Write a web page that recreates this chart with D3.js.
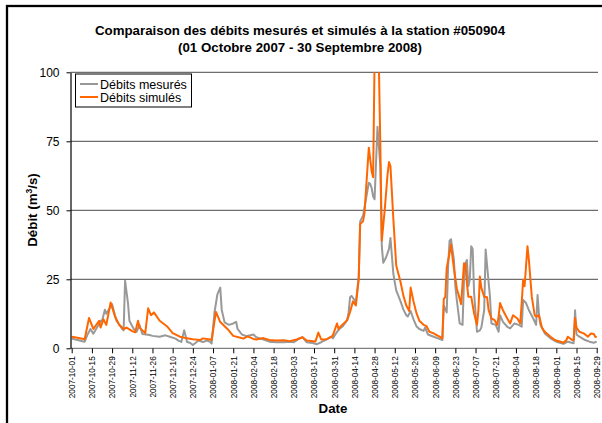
<!DOCTYPE html>
<html><head><meta charset="utf-8">
<script src="https://cdn.jsdelivr.net/npm/d3@7"></script>
<style>body{margin:0;background:#fff;} svg{display:block;font-family:"Liberation Sans",Arial,sans-serif;}</style>
</head><body>
<svg id="c" width="602" height="423"></svg>
<script>
// ---- data ----
const titleLines = ["Comparaison des débits mesurés et simulés à la station #050904", "(01 Octobre 2007 - 30 Septembre 2008)"];
const seriesNames = ["Débits mesurés", "Débits simulés"];
const yTicks = [0, 25, 50, 75, 100];
const xTickLabels = ["2007-10-01","2007-10-15","2007-10-29","2007-11-12","2007-11-26","2007-12-10","2007-12-24","2008-01-07","2008-01-21","2008-02-04","2008-02-18","2008-03-03","2008-03-17","2008-03-31","2008-04-14","2008-04-28","2008-05-12","2008-05-26","2008-06-09","2008-06-23","2008-07-07","2008-07-21","2008-08-04","2008-08-18","2008-09-01","2008-09-15","2008-09-29"];

const measuredDates = ["2007-10-01","2007-10-05","2007-10-10","2007-10-12","2007-10-14","2007-10-16","2007-10-19","2007-10-21","2007-10-22","2007-10-24","2007-10-25","2007-10-29","2007-11-01","2007-11-05","2007-11-06","2007-11-07","2007-11-09","2007-11-10","2007-11-13","2007-11-15","2007-11-17","2007-11-19","2007-11-24","2007-11-26","2007-12-01","2007-12-05","2007-12-08","2007-12-12","2007-12-14","2007-12-16","2007-12-18","2007-12-20","2007-12-22","2007-12-24","2007-12-28","2007-12-31","2008-01-03","2008-01-05","2008-01-06","2008-01-08","2008-01-10","2008-01-12","2008-01-13","2008-01-15","2008-01-18","2008-01-21","2008-01-23","2008-01-24","2008-01-27","2008-01-30","2008-02-04","2008-02-06","2008-02-09","2008-02-13","2008-02-15","2008-02-20","2008-02-25","2008-02-29","2008-03-03","2008-03-07","2008-03-09","2008-03-12","2008-03-16","2008-03-19","2008-03-22","2008-03-26","2008-03-29","2008-03-30","2008-04-02","2008-04-04","2008-04-06","2008-04-09","2008-04-10","2008-04-11","2008-04-12","2008-04-14","2008-04-15","2008-04-17","2008-04-18","2008-04-20","2008-04-22","2008-04-24","2008-04-25","2008-04-26","2008-04-27","2008-04-28","2008-04-30","2008-05-02","2008-05-03","2008-05-04","2008-05-06","2008-05-08","2008-05-09","2008-05-11","2008-05-13","2008-05-16","2008-05-18","2008-05-20","2008-05-21","2008-05-23","2008-05-25","2008-05-27","2008-05-29","2008-06-01","2008-06-02","2008-06-04","2008-06-08","2008-06-11","2008-06-14","2008-06-15","2008-06-17","2008-06-18","2008-06-19","2008-06-20","2008-06-22","2008-06-23","2008-06-24","2008-06-26","2008-06-28","2008-06-29","2008-06-30","2008-07-01","2008-07-02","2008-07-03","2008-07-04","2008-07-05","2008-07-06","2008-07-08","2008-07-10","2008-07-11","2008-07-13","2008-07-14","2008-07-15","2008-07-17","2008-07-18","2008-07-21","2008-07-23","2008-07-24","2008-07-26","2008-07-29","2008-07-31","2008-08-03","2008-08-06","2008-08-08","2008-08-09","2008-08-11","2008-08-13","2008-08-16","2008-08-18","2008-08-19","2008-08-20","2008-08-21","2008-08-24","2008-08-28","2008-09-01","2008-09-06","2008-09-09","2008-09-13","2008-09-14","2008-09-15","2008-09-17","2008-09-21","2008-09-24","2008-09-27","2008-09-29"];
const measuredValues = [3.5,3,2.4,5,7,5.3,8,10,9.8,14,12.5,16,10,7,6.5,24.5,16.5,10,7,6,8.5,5.2,4.8,4.5,4.2,4.7,4.2,3.5,2.8,2.3,6.5,2.3,2,1.2,2.8,2.3,2.8,2.3,1.7,13,19.5,22,14,9.4,8.5,9,9.6,7,5,4.4,5,4,3.5,2.8,2.4,2.2,2.2,2.4,2.2,3.6,4,2.2,1.9,1.5,2.2,3.3,4.2,3.6,6,7.2,8,10.2,13,18.5,19,17.5,16.5,26,46,48,54,60,59.5,58,55,54,80.3,66,37,31,33,36,40,27,21,17,14,12,11.5,13.5,10.5,8,7,6.3,7.5,5,4.2,3.6,3,15.5,13,30,39,39.5,32,22.5,17.5,9,8.5,24.8,30.8,32,22.5,24.8,37,36,20,6,6.5,7.5,13.8,35.8,30,18.7,9,8.5,6,12,9.6,7.8,7.2,9,8.5,7.8,17.5,16.4,13.8,10.8,8.5,19.3,12,8.5,5.4,3.6,2.4,1.6,2.4,1.8,13.8,5,4.2,3,2.4,2,2.4];

const simulatedDates = ["2007-10-01","2007-10-05","2007-10-10","2007-10-13","2007-10-16","2007-10-20","2007-10-21","2007-10-23","2007-10-25","2007-10-28","2007-10-31","2007-11-03","2007-11-06","2007-11-08","2007-11-12","2007-11-14","2007-11-16","2007-11-17","2007-11-21","2007-11-23","2007-11-25","2007-11-27","2007-12-01","2007-12-06","2007-12-10","2007-12-15","2007-12-20","2007-12-24","2007-12-29","2007-12-31","2008-01-05","2008-01-06","2008-01-09","2008-01-12","2008-01-17","2008-01-21","2008-01-26","2008-01-28","2008-01-31","2008-02-04","2008-02-06","2008-02-11","2008-02-15","2008-02-20","2008-02-25","2008-02-29","2008-03-05","2008-03-09","2008-03-12","2008-03-18","2008-03-20","2008-03-22","2008-03-26","2008-03-29","2008-03-30","2008-04-02","2008-04-03","2008-04-05","2008-04-09","2008-04-11","2008-04-13","2008-04-15","2008-04-17","2008-04-18","2008-04-20","2008-04-21","2008-04-22","2008-04-24","2008-04-26","2008-04-27","2008-04-28","2008-04-29","2008-04-30","2008-05-01","2008-05-02","2008-05-03","2008-05-05","2008-05-07","2008-05-08","2008-05-09","2008-05-11","2008-05-13","2008-05-16","2008-05-18","2008-05-20","2008-05-22","2008-05-23","2008-05-25","2008-05-27","2008-05-29","2008-06-01","2008-06-03","2008-06-05","2008-06-08","2008-06-10","2008-06-12","2008-06-14","2008-06-15","2008-06-16","2008-06-17","2008-06-19","2008-06-20","2008-06-21","2008-06-22","2008-06-23","2008-06-24","2008-06-26","2008-06-27","2008-06-28","2008-06-29","2008-06-30","2008-07-01","2008-07-02","2008-07-04","2008-07-06","2008-07-08","2008-07-09","2008-07-10","2008-07-11","2008-07-13","2008-07-15","2008-07-16","2008-07-18","2008-07-20","2008-07-22","2008-07-23","2008-07-24","2008-07-26","2008-07-29","2008-07-31","2008-08-02","2008-08-05","2008-08-07","2008-08-08","2008-08-09","2008-08-10","2008-08-11","2008-08-12","2008-08-13","2008-08-15","2008-08-17","2008-08-18","2008-08-20","2008-08-22","2008-08-24","2008-08-28","2008-08-31","2008-09-04","2008-09-06","2008-09-08","2008-09-09","2008-09-12","2008-09-13","2008-09-14","2008-09-15","2008-09-17","2008-09-20","2008-09-23","2008-09-25","2008-09-27","2008-09-28","2008-09-29"];
const simulatedValues = [4.2,3.8,3.3,11,7,10,7.5,10.5,8.5,16.6,11.5,8.5,7,7.5,6.2,5.8,10,7.5,5.5,14.5,12,13,10,8,5.5,4.2,3.6,3.3,3,3.6,3.2,3,13.2,9.5,7,4.5,3.8,3.5,4.3,3.4,3.2,3.7,3,2.8,2.9,2.6,3.2,4,2.8,2.5,5.7,3.2,3.3,4.2,4.6,9,7,8.2,10.2,13.2,17,15.5,25,45,46,49,57,72.7,64,62,105,120,115,102,73,39,50,63,67.5,66,47,30,24,19,15.5,13.5,22,17,12.8,10,8.5,8,6,5.4,4.8,4.2,3.6,18,18.5,29,34.6,37.6,33,29,25.4,21.7,18,16,23.5,30.8,30.5,23.5,18.7,18.7,12.6,8.5,13.8,26,22,18.7,18.5,14,10.8,10.3,8.5,11.5,16.4,13.8,10.8,9,12,10.8,9,16.4,24.8,22.5,29.7,37,32,18.7,12,11.5,12,7.5,6,4.2,3,2.4,2,3,4.2,3,3,11,7.5,6,5.4,4.2,5.4,5.2,4.2,4];

// ---- drawing ----
const svg = d3.select("#c");
const parse = d3.utcParse("%Y-%m-%d");
const x = d3.scaleUtc().domain([parse(xTickLabels[0]), parse(xTickLabels[xTickLabels.length-1])]).range([71.7, 596.7]);
const y = d3.scaleLinear().domain([0, 100]).range([348.3, 72.3]);
const plotLeft = 70.5, plotRight = 598;

// outer frame
svg.append("rect").attr("x", 7).attr("y", 6).attr("width", 700).attr("height", 500)
  .attr("fill", "none").attr("stroke", "#000").attr("stroke-width", 2.3);

// title
svg.selectAll("text.title").data(titleLines).join("text").attr("class", "title")
  .attr("x", 300).attr("y", (d, i) => 35 + i * 17).attr("text-anchor", "middle")
  .attr("font-size", 13.3).attr("font-weight", "bold").text(d => d);

// gridlines
svg.append("g").selectAll("line").data(yTicks.filter(t => t > 0)).join("line")
  .attr("x1", plotLeft).attr("x2", plotRight).attr("y1", d => y(d)).attr("y2", d => y(d))
  .attr("stroke", "#6e6e6e").attr("stroke-width", 1.2);

// clip
svg.append("clipPath").attr("id", "clip").append("rect")
  .attr("x", plotLeft).attr("y", y(100)).attr("width", plotRight - plotLeft).attr("height", y(0) - y(100));

const line = d3.line().x(d => x(d[0])).y(d => y(d[1]));
const measured = measuredDates.map((d, i) => [parse(d), measuredValues[i]]);
const simulated = simulatedDates.map((d, i) => [parse(d), simulatedValues[i]]);
const colors = ["#999999", "#ff6600"];

const g = svg.append("g").attr("clip-path", "url(#clip)");
g.append("path").datum(measured).attr("d", line).attr("fill", "none").attr("stroke", colors[0]).attr("stroke-width", 2).attr("stroke-linejoin", "round");
g.append("path").datum(simulated).attr("d", line).attr("fill", "none").attr("stroke", colors[1]).attr("stroke-width", 2).attr("stroke-linejoin", "round");

// x axis
const xAxis = d3.axisBottom(x).tickValues(xTickLabels.map(parse)).tickFormat(d3.utcFormat("%Y-%m-%d")).tickSize(5).tickSizeOuter(0);
const xg = svg.append("g").attr("transform", `translate(0,${y(0)})`).call(xAxis);
xg.select(".domain").attr("d", `M${plotLeft},0H${plotRight}`).attr("stroke", "#808080").attr("stroke-width", 1.2);
xg.selectAll(".tick line").attr("stroke", "#000");
xg.selectAll(".tick text").attr("font-size", 8.2).attr("font-family", "Liberation Sans, Arial, sans-serif").attr("fill", "#000")
  .attr("transform", "rotate(-90)").attr("text-anchor", "end").attr("x", -8).attr("y", 0).attr("dy", "0.35em");

// y axis
const yAxis = d3.axisLeft(y).tickValues(yTicks).tickSize(4).tickSizeOuter(0).tickPadding(7);
const yg = svg.append("g").attr("transform", `translate(${plotLeft},0)`).call(yAxis);
yg.select(".domain").attr("stroke", "#000").attr("stroke-width", 1.2);
yg.selectAll(".tick text").attr("font-size", 12).attr("font-family", "Liberation Sans, Arial, sans-serif").attr("fill", "#000");

// axis titles
const yl = svg.append("text").attr("transform", "translate(37,210) rotate(-90)").attr("text-anchor", "middle")
  .attr("font-size", 13.3).attr("font-weight", "bold");
yl.append("tspan").text("Débit (m");
yl.append("tspan").attr("font-size", 8.5).attr("dy", -5).text("3");
yl.append("tspan").attr("dy", 5).text("/s)");
svg.append("text").attr("x", 333).attr("y", 413).attr("text-anchor", "middle").attr("font-size", 13.3).attr("font-weight", "bold").text("Date");

// legend
const lg = svg.append("g");
lg.append("rect").attr("x", 75.5).attr("y", 74).attr("width", 116).attr("height", 33).attr("fill", "#fff").attr("stroke", "#000").attr("stroke-width", 1);
seriesNames.forEach((n, i) => {
  const yy = 84 + i * 13;
  lg.append("line").attr("x1", 80).attr("x2", 98).attr("y1", yy).attr("y2", yy).attr("stroke", colors[i]).attr("stroke-width", 2);
  lg.append("text").attr("x", 100).attr("y", yy + 4.5).attr("font-size", 12.5).text(n);
});
</script>
</body></html>
